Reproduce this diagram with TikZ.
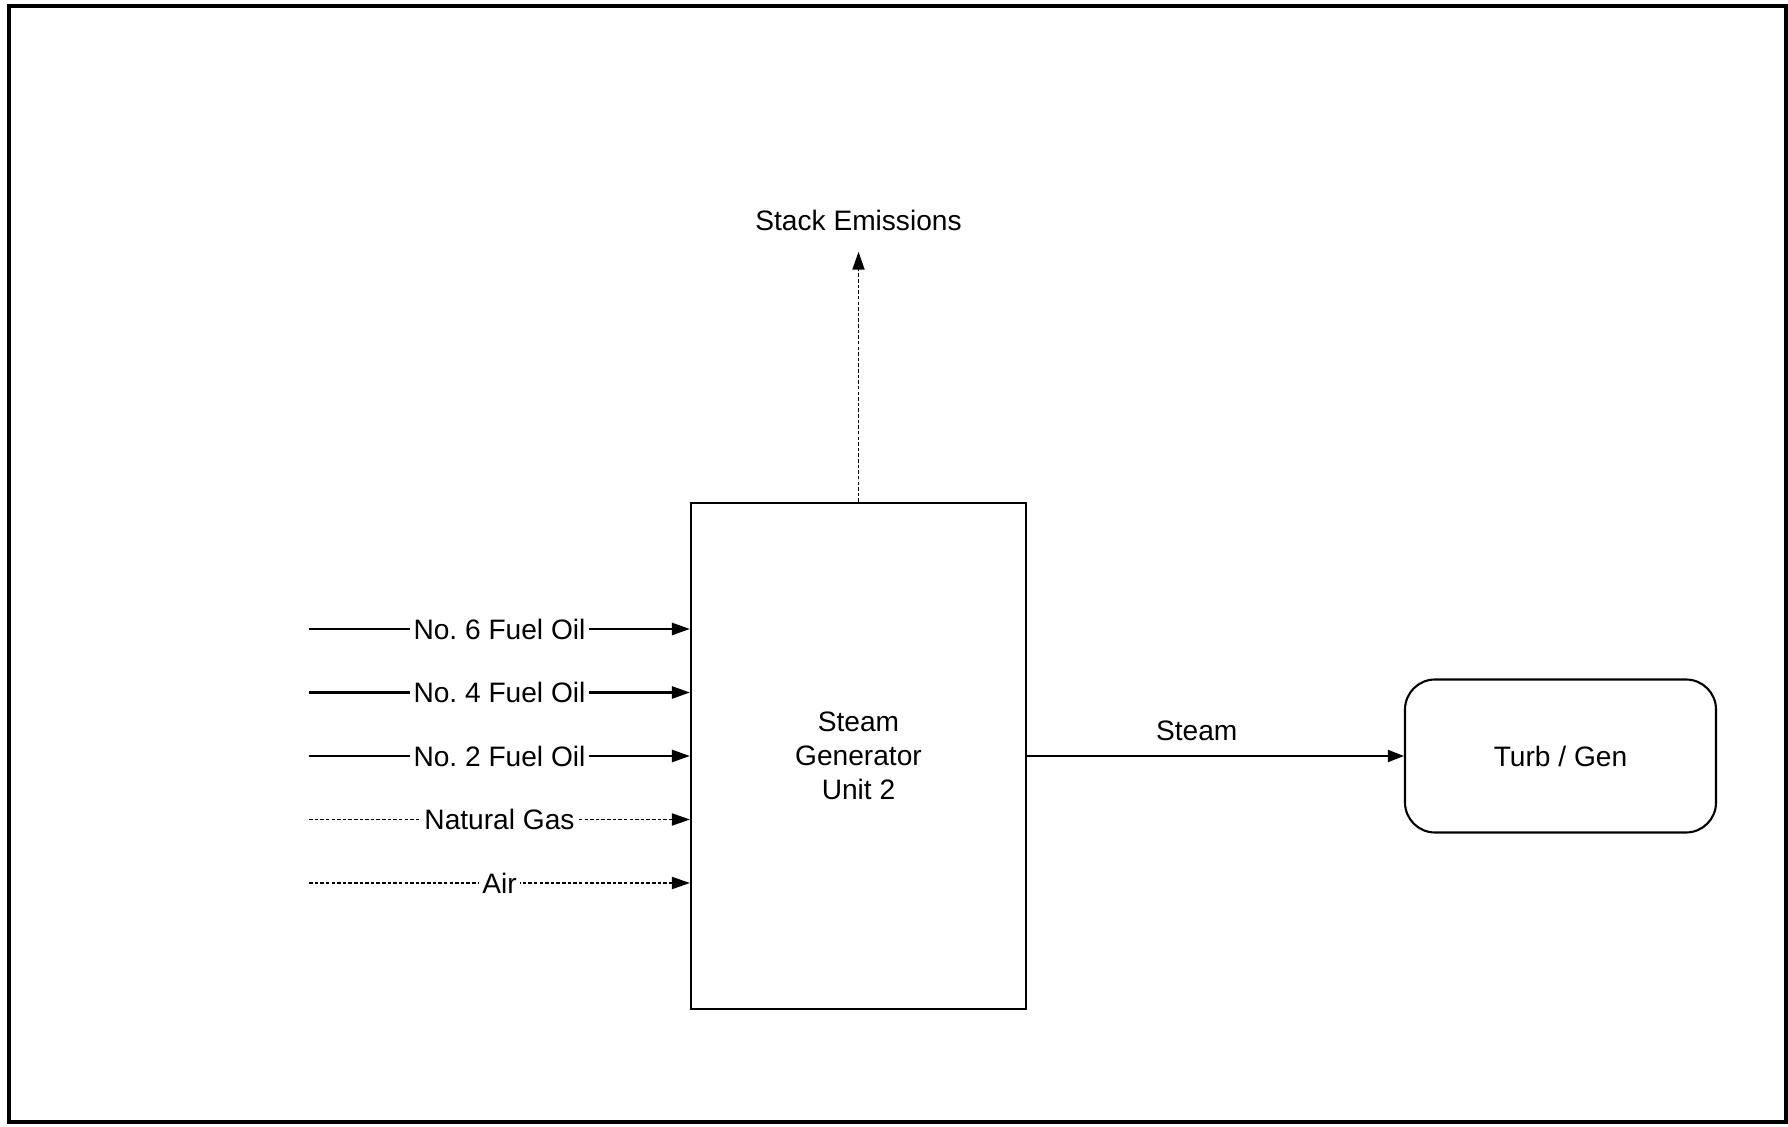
\documentclass[tikz,border=0pt]{standalone}
\usepackage{fontspec}
\setmainfont{Liberation Sans}
\usepackage{tikz}
\usetikzlibrary{positioning, arrows.meta, calc}
\frenchspacing
\tikzset{
	blocknode/.style={
			rectangle,
			draw=black,
			line width=0.6pt,
			fill=white,
			align=center,
			inner sep=0pt
		},
	roundnode/.style={
			blocknode,
			rounded corners=3mm
		},
	labelnode/.style={
			fill=white,
			inner sep=1pt
		},
	flowsolid/.style={
			line width=0.7pt,
			-{Triangle[length=1.8mm, width=1.2mm]}
		},
	flowdashed/.style={
			line width=0.55pt,
			dash pattern=on 1pt off 0.6pt,
			-{Triangle[length=1.8mm, width=1.2mm]}
		}
}

\begin{document}
\begin{tikzpicture}[font=\fontsize{8}{9.6}\selectfont]
\useasboundingbox (0,0) rectangle (17.88,11.26);
\draw[line width=1.2pt] (0.09,0.04) rectangle (17.86,11.20);

\node[blocknode, minimum width=3.35cm, minimum height=5.06cm] (sg) at (8.585,3.70) {Steam\\Generator\\Unit 2};
\node[roundnode, minimum width=3.11cm, minimum height=1.53cm] (tg) at (15.605,3.70) {Turb / Gen};
\node (stack) at (8.585,9.06) {Stack Emissions};

% fuel and air inputs
\foreach \i/\dy/\lbl/\sty in {1/2/No. 6 Fuel Oil/flowsolid, 2/1/No. 4 Fuel Oil/flowsolid,
  3/0/No. 2 Fuel Oil/flowsolid, 4/-1/Natural Gas/flowdashed, 5/-2/Air/flowdashed}
{
  \coordinate (in\i) at (3.09,3.70+0.635*\dy);
  \draw[\sty] (in\i) -- node[labelnode] {\lbl} (sg.west |- in\i);
}

\draw[flowdashed, shorten >=0.9mm] (sg.north) -- (stack.south);
\draw[line width=0.45pt, -{Triangle[length=1.6mm, width=1.2mm]}]
(sg.east |- tg.west) -- node[pos=0.45, above=0.3mm] {Steam} (tg.west);
\end{tikzpicture}
\end{document}
